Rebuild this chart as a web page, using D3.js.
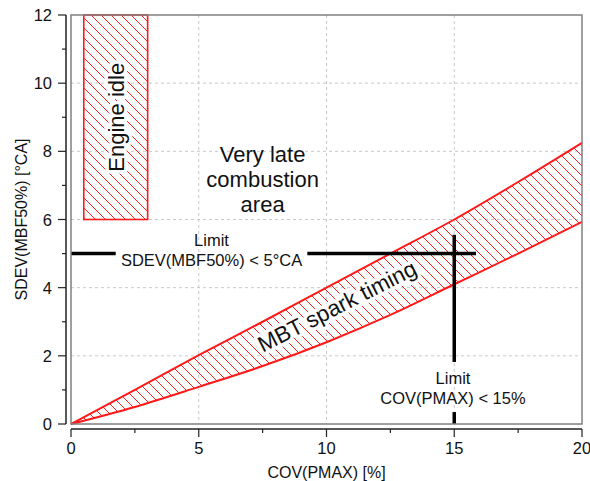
<!DOCTYPE html>
<html>
<head>
<meta charset="utf-8">
<script src="https://cdn.jsdelivr.net/npm/d3@7"></script>
<style>
  body { margin: 0; background: #fff; }
  text { font-family: "Liberation Sans", Arial, sans-serif; fill: #111; }
  .halo { stroke: #fff; stroke-width: 7px; stroke-linejoin: round; paint-order: stroke; }
</style>
</head>
<body>
<div id="chart"></div>
<script>
// band edges of MBT spark timing (x = COV(PMAX) %, y = SDEV °CA)
const bandX = [0, 2.5, 5, 7.5, 10, 12.5, 15, 17.5, 20];
const bandUpper = [0, 1.0, 2.02, 3.0, 4.0, 5.0, 6.0, 7.1, 8.25];
const bandLower = [0, 0.5, 1.09, 1.7, 2.4, 3.2, 4.1, 5.0, 5.93];

// engine idle region
const idleX = [0.5, 3];
const idleY = [6, 12];

// limit lines
const sdevLimit = 5;
const sdevSegments = [[0, 1.75], [9.25, 15.85]];
const covLimit = 15;
const covSegments = [[1.82, 5.55], [0, 0.35]];

const xTicks = [0, 5, 10, 15, 20];
const yTicks = [0, 2, 4, 6, 8, 10, 12];

const W = 590, H = 481;
const margin = { top: 15, right: 8, bottom: 57, left: 71 };
const width = W - margin.left - margin.right;
const height = H - margin.top - margin.bottom;

const svg = d3.select("#chart").append("svg")
  .attr("width", W).attr("height", H);

// diagonal hatch, 10px apart
const defs = svg.append("defs");
defs.append("pattern")
  .attr("id", "hatch")
  .attr("patternUnits", "userSpaceOnUse")
  .attr("width", 10).attr("height", 10)
  .append("path")
  .attr("d", "M-1,-1 L11,11 M-11,-1 L1,11 M9,-1 L21,11")
  .attr("stroke", "#ff2020").attr("stroke-width", 1)
  .attr("shape-rendering", "crispEdges");

const g = svg.append("g").attr("transform", `translate(${margin.left},${margin.top})`);

const x = d3.scaleLinear().domain([0, 20]).range([0, width]);
const y = d3.scaleLinear().domain([0, 12]).range([height, 0]);

// grid
g.append("g").selectAll("line")
  .data(xTicks.filter(d => d > 0 && d < 20))
  .join("line")
  .attr("x1", d => x(d)).attr("x2", d => x(d))
  .attr("y1", 0).attr("y2", height)
  .attr("stroke", "#c8c8c8").attr("stroke-dasharray", "3,3");
g.append("g").selectAll("line")
  .data(yTicks.filter(d => d > 0 && d < 12))
  .join("line")
  .attr("x1", 0).attr("x2", width)
  .attr("y1", d => y(d)).attr("y2", d => y(d))
  .attr("stroke", "#c8c8c8").attr("stroke-dasharray", "3,3");

// MBT band
const bandPts = bandX.map((v, i) => [v, bandUpper[i]])
  .concat(bandX.map((v, i) => [v, bandLower[i]]).reverse());
const line = d3.line().x(d => x(d[0])).y(d => y(d[1])).curve(d3.curveMonotoneX);
g.append("path")
  .attr("d", d3.line().x(d => x(d[0])).y(d => y(d[1])).curve(d3.curveLinearClosed)(bandPts))
  .attr("fill", "url(#hatch)").attr("stroke", "none");

// engine idle box
g.append("rect")
  .attr("x", x(idleX[0])).attr("y", y(idleY[1]))
  .attr("width", x(idleX[1]) - x(idleX[0]))
  .attr("height", y(idleY[0]) - y(idleY[1]))
  .attr("fill", "url(#hatch)");

// labels inside hatched regions (white halo clears the hatch)
g.append("text").attr("class", "halo")
  .attr("transform", `translate(${x(1.75) + 8},${y(9)}) rotate(-90)`)
  .attr("text-anchor", "middle").attr("font-size", 22)
  .text("Engine idle");
g.append("text").attr("class", "halo")
  .attr("transform", `translate(${x(10.55)},${y(3.25)}) rotate(-27)`)
  .attr("text-anchor", "middle").attr("font-size", 22.5)
  .text("MBT spark timing");

// outlines on top
g.append("path")
  .datum(bandX.map((v, i) => [v, bandUpper[i]]))
  .attr("d", line).attr("fill", "none").attr("stroke", "#ff1a1a").attr("stroke-width", 2);
g.append("path")
  .datum(bandX.map((v, i) => [v, bandLower[i]]))
  .attr("d", line).attr("fill", "none").attr("stroke", "#ff1a1a").attr("stroke-width", 2);
g.append("rect")
  .attr("x", x(idleX[0])).attr("y", y(idleY[1]))
  .attr("width", x(idleX[1]) - x(idleX[0]))
  .attr("height", y(idleY[0]) - y(idleY[1]))
  .attr("fill", "none")
  .attr("stroke", "#ff1a1a").attr("stroke-width", 1.6);

// limit lines
g.append("g").selectAll("line")
  .data(sdevSegments)
  .join("line")
  .attr("x1", d => x(d[0])).attr("x2", d => x(d[1]))
  .attr("y1", y(sdevLimit)).attr("y2", y(sdevLimit))
  .attr("stroke", "#000").attr("stroke-width", 3.5);
g.append("g").selectAll("line")
  .data(covSegments)
  .join("line")
  .attr("x1", x(covLimit)).attr("x2", x(covLimit))
  .attr("y1", d => y(d[0])).attr("y2", d => y(d[1]))
  .attr("stroke", "#000").attr("stroke-width", 3.5);

// frame
g.append("rect")
  .attr("x", 0).attr("y", 0).attr("width", width).attr("height", height)
  .attr("fill", "none").attr("stroke", "#808080").attr("stroke-width", 1.5);

// axes (offset from frame)
const xAxis = g.append("g").attr("transform", `translate(0,${height + 5})`);
xAxis.append("line").attr("x1", 0).attr("x2", width).attr("stroke", "#222").attr("stroke-width", 1.5);
xAxis.selectAll(".minor").data(d3.range(0, 20.01, 2.5)).join("line")
  .attr("x1", d => x(d)).attr("x2", d => x(d))
  .attr("y1", 0).attr("y2", d => d % 5 === 0 ? 8 : 4)
  .attr("stroke", "#222").attr("stroke-width", 1.2);
xAxis.selectAll("text").data(xTicks).join("text")
  .attr("x", d => x(d)).attr("y", 25)
  .attr("text-anchor", "middle").attr("font-size", 16.5)
  .text(d => d);

const yAxis = g.append("g").attr("transform", "translate(-5,0)");
yAxis.append("line").attr("y1", 0).attr("y2", height).attr("stroke", "#222").attr("stroke-width", 1.5);
yAxis.selectAll(".minor").data(d3.range(0, 12.01, 1)).join("line")
  .attr("y1", d => y(d)).attr("y2", d => y(d))
  .attr("x1", 0).attr("x2", d => d % 2 === 0 ? -8 : -4)
  .attr("stroke", "#222").attr("stroke-width", 1.2);
yAxis.selectAll("text").data(yTicks).join("text")
  .attr("x", -14).attr("y", d => y(d) + 6)
  .attr("text-anchor", "end").attr("font-size", 16.5)
  .text(d => d);

// axis titles
svg.append("text")
  .attr("x", margin.left + width / 2).attr("y", 478)
  .attr("text-anchor", "middle").attr("font-size", 16)
  .text("COV(PMAX) [%]");
svg.append("text")
  .attr("transform", `translate(27,${margin.top + height / 2}) rotate(-90)`)
  .attr("text-anchor", "middle").attr("font-size", 16)
  .text("SDEV(MBF50%) [°CA]");

// annotations
const ann = g.append("g");
ann.append("text")
  .attr("x", x(5.5)).attr("y", y(5.22))
  .attr("text-anchor", "middle").attr("font-size", 16.5)
  .text("Limit");
ann.append("text")
  .attr("x", x(5.5)).attr("y", y(4.65))
  .attr("text-anchor", "middle").attr("font-size", 16.5)
  .text("SDEV(MBF50%) < 5°CA");
ann.append("text")
  .attr("x", x(14.95)).attr("y", y(1.18))
  .attr("text-anchor", "middle").attr("font-size", 16.5)
  .text("Limit");
ann.append("text")
  .attr("x", x(14.95)).attr("y", y(0.6))
  .attr("text-anchor", "middle").attr("font-size", 16.5)
  .text("COV(PMAX) < 15%");

const lateLines = ["Very late", "combustion", "area"];
ann.selectAll(".late").data(lateLines).join("text")
  .attr("x", x(7.5)).attr("y", (d, i) => y(7.7) + i * 25)
  .attr("text-anchor", "middle").attr("font-size", 22)
  .text(d => d);
</script>
</body>
</html>
